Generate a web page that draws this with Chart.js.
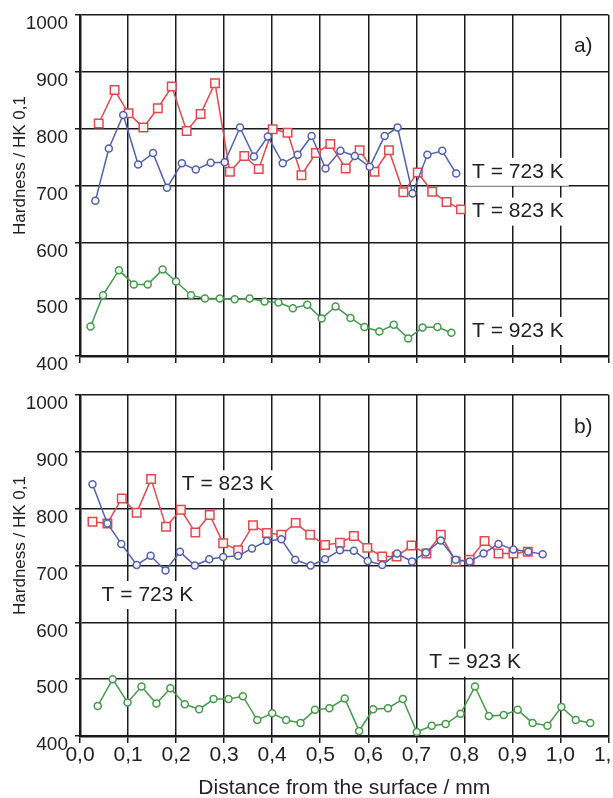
<!DOCTYPE html>
<html>
<head>
<meta charset="utf-8">
<script src="https://cdn.jsdelivr.net/npm/chart.js@4.4.1/dist/chart.umd.min.js"></script>
<style>
  html, body { margin: 0; padding: 0; background: #fff; overflow: hidden; width: 613px; height: 798px; }
  .panel { position: absolute; left: 0; width: 616px; }
  #topPanel { top: 0; height: 380px; }
  #bottomPanel { top: 380px; height: 425px; }
</style>
</head>
<body>
<div class="panel" id="topPanel"><canvas id="chartTop"></canvas></div>
<div class="panel" id="bottomPanel"><canvas id="chartBottom"></canvas></div>
<script>
// a) top panel
const xTop723 = [0.032, 0.060, 0.090, 0.121, 0.152, 0.181, 0.212, 0.241, 0.272, 0.301, 0.333, 0.362, 0.391, 0.422, 0.453, 0.482, 0.511, 0.542, 0.572, 0.603, 0.634, 0.661, 0.692, 0.723, 0.754, 0.783];
const yTop723 = [673, 765, 824, 737, 757, 696, 739, 728, 740, 741, 802, 751, 786, 739, 754, 787, 730, 761, 752, 733, 787, 802, 686, 754, 761, 721];
const xTop823 = [0.039, 0.072, 0.101, 0.132, 0.162, 0.191, 0.222, 0.251, 0.281, 0.312, 0.342, 0.372, 0.401, 0.432, 0.461, 0.491, 0.521, 0.553, 0.582, 0.613, 0.643, 0.673, 0.703, 0.733, 0.763, 0.793];
const yTop823 = [809, 868, 827, 802, 836, 874, 796, 826, 880, 724, 752, 729, 799, 793, 718, 757, 773, 730, 762, 724, 762, 688, 723, 689, 671, 658];
const xTop923 = [0.022, 0.048, 0.081, 0.112, 0.141, 0.172, 0.200, 0.231, 0.260, 0.291, 0.322, 0.353, 0.384, 0.413, 0.443, 0.473, 0.503, 0.532, 0.563, 0.592, 0.623, 0.653, 0.683, 0.713, 0.744, 0.773];
const yTop923 = [452, 507, 551, 526, 526, 552, 531, 507, 501, 501, 500, 501, 496, 494, 484, 490, 466, 487, 467, 451, 443, 455, 431, 450, 451, 441];

// b) bottom panel
const xBot723 = [0.026, 0.057, 0.086, 0.118, 0.147, 0.178, 0.208, 0.239, 0.269, 0.298, 0.329, 0.358, 0.389, 0.419, 0.448, 0.480, 0.510, 0.541, 0.570, 0.599, 0.629, 0.660, 0.691, 0.720, 0.751, 0.782, 0.811, 0.840, 0.871, 0.902, 0.933, 0.963];
const yBot723 = [843, 774, 738, 701, 717, 691, 724, 700, 711, 715, 717, 730, 743, 746, 710, 700, 711, 727, 726, 708, 701, 721, 707, 723, 744, 710, 707, 721, 738, 728, 724, 720];
const xBot823 = [0.026, 0.057, 0.087, 0.118, 0.148, 0.179, 0.210, 0.240, 0.270, 0.298, 0.329, 0.360, 0.389, 0.419, 0.449, 0.479, 0.510, 0.541, 0.570, 0.598, 0.629, 0.659, 0.690, 0.721, 0.751, 0.782, 0.811, 0.842, 0.871, 0.902, 0.932];
const yBot823 = [777, 774, 818, 793, 852, 768, 798, 758, 789, 739, 727, 771, 757, 754, 775, 754, 736, 740, 752, 731, 716, 716, 735, 721, 754, 707, 710, 743, 721, 721, 724];
const xBot923 = [0.037, 0.068, 0.099, 0.128, 0.159, 0.188, 0.218, 0.248, 0.278, 0.309, 0.339, 0.369, 0.400, 0.429, 0.459, 0.489, 0.519, 0.551, 0.581, 0.610, 0.641, 0.672, 0.701, 0.732, 0.761, 0.792, 0.822, 0.851, 0.882, 0.911, 0.942, 0.973, 1.002, 1.032, 1.062];
const yBot923 = [453, 500, 459, 487, 457, 484, 456, 447, 465, 465, 470, 428, 440, 428, 423, 446, 449, 466, 409, 447, 449, 465, 407, 418, 421, 439, 487, 435, 437, 446, 423, 418, 451, 428, 423];

// text labels placed in data units
const notesTop = [
  { text: 'a)', x: 1.028, y: 945, box: false },
  { text: 'T = 723 K', x: 0.816, y: 724, box: true },
  { text: 'T = 823 K', x: 0.816, y: 654, box: true },
  { text: 'T = 923 K', x: 0.816, y: 444, box: true }
];
const notesBottom = [
  { text: 'b)', x: 1.028, y: 944, box: false },
  { text: 'T = 823 K', x: 0.212, y: 843, box: true },
  { text: 'T = 723 K', x: 0.045, y: 648, box: true },
  { text: 'T = 923 K', x: 0.727, y: 529, box: true }
];
const yTitle = 'Hardness / HK 0,1';
const xTitle = 'Distance from the surface / mm';

const FONT = '"Liberation Sans", Arial, sans-serif';
Chart.defaults.font.family = FONT;
Chart.defaults.color = '#222';

const blue = '#5060ac';
const red = '#e0494e';
const green = '#46984c';

const toPoints = (xs, ys) => xs.map((x, i) => ({ x, y: ys[i] }));

function series(label, xs, ys, color, style, radius) {
  return {
    label,
    data: toPoints(xs, ys),
    showLine: true,
    borderColor: color,
    borderWidth: 1.5,
    pointStyle: style,
    pointRadius: radius,
    pointBorderWidth: 1.5,
    pointBorderColor: color,
    pointBackgroundColor: 'rgba(255,255,255,0.9)'
  };
}

// panel notes + the y title, which sits a bit above the middle of the axis
const notesPlugin = {
  id: 'notes',
  afterDraw(chart, args, opts) {
    const { ctx, chartArea, scales: { x, y } } = chart;
    ctx.save();
    ctx.font = '21px ' + FONT;
    ctx.textBaseline = 'middle';
    ctx.textAlign = 'left';
    opts.items.forEach(n => {
      const px = x.getPixelForValue(n.x);
      const py = y.getPixelForValue(n.y);
      if (n.box) {
        const w = ctx.measureText(n.text).width;
        ctx.fillStyle = '#fff';
        ctx.fillRect(px - 5, py - 14, w + 10, 28);
      }
      ctx.fillStyle = '#222';
      ctx.fillText(n.text, px, py);
    });

    ctx.translate(20, (chartArea.top + chartArea.bottom) / 2 - 20);
    ctx.rotate(-Math.PI / 2);
    ctx.font = '17px ' + FONT;
    ctx.textAlign = 'center';
    ctx.fillText(yTitle, 0, 0);
    ctx.restore();
  }
};

function drawPanel(canvasId, datasets, notes, isBottom) {
  const config = {
    type: 'scatter',
    data: { datasets },
    options: {
      responsive: true,
      maintainAspectRatio: false,
      devicePixelRatio: 1,
      animation: false,
      layout: { padding: { top: 15, right: 2, left: 0, bottom: 0 } },
      plugins: {
        legend: { display: false },
        tooltip: { enabled: false },
        notes: { items: notes }
      },
      scales: {
        x: {
          type: 'linear',
          min: 0,
          max: 1.1,
          grid: { color: '#1a1a1a', lineWidth: 1.5, tickLength: 7 },
          border: { color: '#1a1a1a', width: 2.5 },
          ticks: {
            display: isBottom,
            stepSize: 0.1,
            autoSkip: false,
            maxRotation: 0,
            padding: 0,
            font: { size: 21 },
            callback: (value) => value.toFixed(1).replace('.', ',')
          },
          title: {
            display: isBottom,
            text: xTitle,
            font: { size: 21 },
            padding: { top: 0, bottom: 4 }
          },
          afterFit: (scale) => {
            scale.height = isBottom ? 69 : 24;
            scale.paddingLeft = 0;
            scale.paddingRight = 0;
          }
        },
        y: {
          type: 'linear',
          min: 400,
          max: 1000,
          grid: { color: '#1a1a1a', lineWidth: 1.5, tickLength: 5 },
          border: { color: '#1a1a1a', width: 2.5 },
          ticks: {
            stepSize: 100,
            padding: 7,
            labelOffset: 9,
            font: { size: 19 },
            callback: (value) => String(value)
          },
          afterFit: (scale) => {
            scale.width = 80;
            scale.paddingTop = 0;
            scale.paddingBottom = 0;
          }
        }
      }
    },
    plugins: [notesPlugin]
  };

  return new Chart(document.getElementById(canvasId), config);
}

drawPanel('chartTop', [
  series('T = 723 K', xTop723, yTop723, blue, 'circle', 3.5),
  series('T = 823 K', xTop823, yTop823, red, 'rect', 6),
  series('T = 923 K', xTop923, yTop923, green, 'circle', 3.5)
], notesTop, false);

drawPanel('chartBottom', [
  series('T = 723 K', xBot723, yBot723, blue, 'circle', 3.5),
  series('T = 823 K', xBot823, yBot823, red, 'rect', 6),
  series('T = 923 K', xBot923, yBot923, green, 'circle', 3.5)
], notesBottom, true);
</script>
</body>
</html>
